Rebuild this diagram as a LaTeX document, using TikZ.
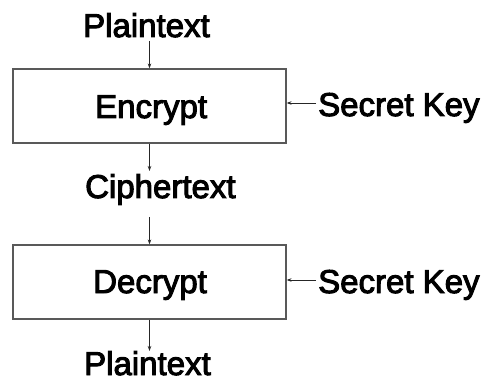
\documentclass[tikz,border=0pt]{standalone}
\usepackage{fontspec}
\setmainfont{Liberation Sans}
\newfontfamily\lblfont{Liberation Sans}[FakeBold=3]
\usetikzlibrary{arrows.meta}
\begin{document}
\begin{tikzpicture}[x=1pt,y=-1pt,
  lbl/.style={inner sep=0pt, anchor=base west, font=\lblfont\fontsize{33}{36}\selectfont},
  boxst/.style={draw=black!65, line width=1.2pt, minimum width=273pt, minimum height=74pt, inner sep=0pt},
  arr/.style={-{Stealth[length=5pt,width=3.5pt]}, line width=0.8pt, black!85}]
\useasboundingbox (0,0) rectangle (484,387);
\node[boxst] (enc) at (149.5,106) {};
\node[boxst] (dec) at (149.5,282) {};
\node[lbl] (p1) at (83,37) {Plaintext};
\node[lbl] (et) at (95,118) {Encrypt};
\node[lbl] (k1) at (318,116) {Secret Key};
\node[lbl] (ct) at (85,198) {Ciphertext};
\node[lbl] (dt) at (93,293) {Decrypt};
\node[lbl] (k2) at (318,293) {Secret Key};
\node[lbl] (p2) at (84,375) {Plaintext};
\coordinate (a1) at ([yshift=-4pt]p1.base);
\coordinate (a2) at ([yshift=27pt]ct.base);
\coordinate (a3) at ([yshift=-19pt]ct.base);
\coordinate (a4) at ([yshift=24pt]p2.base);
\coordinate (s1) at ([xshift=-2pt,yshift=13pt]k1.base west);
\coordinate (s2) at ([xshift=-2pt,yshift=13pt]k2.base west);
\draw[arr] (enc.north |- a1) -- (enc.north);
\draw[arr] (enc.south) -- (enc.south |- a2);
\draw[arr] (dec.north |- a3) -- (dec.north);
\draw[arr] (dec.south) -- (dec.south |- a4);
\draw[arr] (s1) -- (enc.east |- s1);
\draw[arr] (s2) -- (dec.east |- s2);
\end{tikzpicture}
\end{document}
